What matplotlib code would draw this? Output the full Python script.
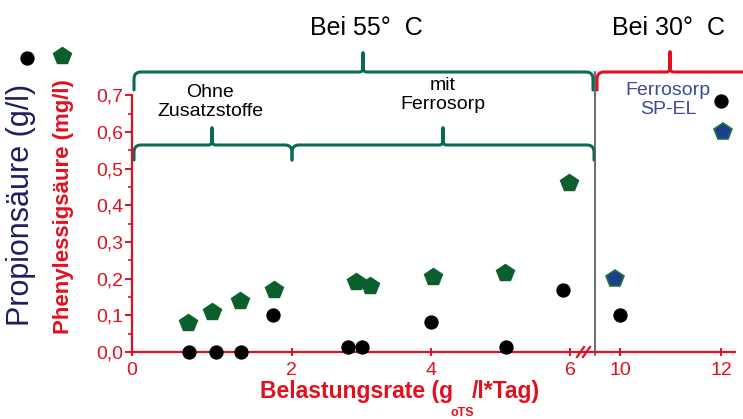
import numpy as np
import matplotlib
matplotlib.use("Agg")
import matplotlib.pyplot as plt
from matplotlib.path import Path
from matplotlib.patches import PathPatch

plt.rcParams['font.family'] = ['Liberation Sans', 'DejaVu Sans']

# Belastungsrate 0-6 (55 °C)
phen_x = [0.70, 1.00, 1.35, 1.78, 2.93, 3.13, 4.03, 5.07, 5.98]
phen_y = [0.08, 0.11, 0.14, 0.17, 0.19, 0.18, 0.205, 0.215, 0.46]
prop_x = [0.72, 1.05, 1.37, 1.76, 2.81, 3.01, 4.00, 5.08, 5.90]
prop_y = [0.0, 0.0, 0.0, 0.10, 0.013, 0.013, 0.083, 0.013, 0.17]

# Belastungsrate 10-12 (30 °C, Ferrosorp SP-EL)
phen30_x = [9.90, 12.05]
phen30_y = [0.20, 0.60]
prop30_x = [10.00, 12.00]
prop30_y = [0.10, 0.685]

yticks = [0.0, 0.1, 0.2, 0.3, 0.4, 0.5, 0.6, 0.7]
ytick_labels = ["0,0", "0,1", "0,2", "0,3", "0,4", "0,5", "0,6", "0,7"]
xticks_left = [0, 2, 4, 6]
xticks_right = [10, 12]

RED = '#e2101f'
TEAL = '#0b6a55'
GREEN = '#0c5f2c'
NAVY = '#1b1f5e'
BLUE = '#1e3d8f'

W, H = 743, 419
fig = plt.figure(figsize=(W / 100, H / 100), dpi=100)


def box(x0, x1, y_top, y_bot):
    return [x0 / W, 1 - y_bot / H, (x1 - x0) / W, (y_bot - y_top) / H]


# stretched section 0..2, then regular spacing
def fwd(x):
    x = np.asarray(x, dtype=float)
    return np.where(x < 2, x * 80.0, 160.0 + (x - 2) * 69.5)


def inv(p):
    p = np.asarray(p, dtype=float)
    return np.where(p < 160, p / 80.0, 2 + (p - 160) / 69.5)


ax = fig.add_axes(box(131.7, 595, 95.3, 352))
ax.set_xscale('function', functions=(fwd, inv))
ax.set_xlim(0, 6.36)
ax.set_ylim(0, 0.7)

ax_r = fig.add_axes(box(595, 735, 95.3, 352), sharey=ax)
ax_r.set_xlim(9.5, 12.28)

mk = dict(linestyle='none', clip_on=False, zorder=5)
ax.plot(phen_x, phen_y, marker='p', markersize=13, color=GREEN, **mk)
ax.plot(prop_x, prop_y, marker='o', markersize=9.3, color='black', **mk)
ax_r.plot(phen30_x, phen30_y, marker='p', markersize=13, markerfacecolor=BLUE,
          markeredgecolor='#1f7a3a', markeredgewidth=1.2, **mk)
ax_r.plot(prop30_x, prop30_y, marker='o', markersize=9.3, color='black', **mk)

for a in (ax, ax_r):
    a.patch.set_visible(False)
    for s in ('top', 'right'):
        a.spines[s].set_visible(False)
    a.spines['bottom'].set_color(RED)
    a.spines['bottom'].set_linewidth(1.6)
    a.tick_params(axis='x', colors=RED, labelsize=14, direction='inout',
                  length=6, width=1.4, pad=4)

ax.spines['left'].set_color(RED)
ax.spines['left'].set_linewidth(1.6)
ax.set_xticks(xticks_left)
ax.set_xticklabels([str(t) for t in xticks_left])
ax.set_yticks(yticks)
ax.set_yticklabels(ytick_labels)
ax.set_yticks(np.arange(0.05, 0.7, 0.1), minor=True)
ax.tick_params(axis='y', colors=RED, labelsize=14, direction='out',
               length=5, width=1.4, pad=1)
ax.tick_params(axis='y', which='minor', colors=RED, length=3, width=1.2)
ax.tick_params(axis='x', which='minor', length=0)

ax_r.spines['left'].set_visible(False)
ax_r.set_xticks(xticks_right)
ax_r.set_xticklabels([str(t) for t in xticks_right])
ax_r.tick_params(axis='y', left=False, labelleft=False)
ax_r.tick_params(axis='y', which='minor', left=False)

# overlay in pixel coordinates for brackets, titles and labels
ov = fig.add_axes([0, 0, 1, 1], zorder=-1)
ov.set_xlim(0, W)
ov.set_ylim(H, 0)
ov.axis('off')


def bracket(x0, x1, xc, y, ytip, yend, color):
    r = 7
    verts = [(x0, yend), (x0, y + r), (x0, y), (x0 + r, y),
             (xc - 4, y), (xc, y), (xc, y - 4), (xc, ytip),
             (xc, y - 4), (xc, y), (xc + 4, y),
             (x1 - r, y), (x1, y), (x1, y + r), (x1, yend)]
    codes = [Path.MOVETO, Path.LINETO, Path.CURVE3, Path.CURVE3,
             Path.LINETO, Path.CURVE3, Path.CURVE3, Path.LINETO,
             Path.LINETO, Path.CURVE3, Path.CURVE3,
             Path.LINETO, Path.CURVE3, Path.CURVE3, Path.LINETO]
    ov.add_patch(PathPatch(Path(verts, codes), fill=False, edgecolor=color,
                           linewidth=2.2, capstyle='round', joinstyle='round'))


bracket(134, 593, 363, 72, 53, 90, TEAL)
bracket(134, 292, 212, 145, 128, 160, TEAL)
bracket(292, 594, 443, 145, 128, 160, TEAL)
bracket(597, 790, 670, 72, 52, 90, RED)

# separator between the two temperature ranges
ov.plot([595, 595], [72, 355], color='#555555', linewidth=1.2)
# axis break marks
for dx in (0, 6):
    ov.plot([577 + dx, 584 + dx], [357, 347], color=RED, linewidth=1.6)

ov.text(366, 28, 'Bei 55°  C', fontsize=18, ha='center', va='center')
ov.text(668, 28, 'Bei 30°  C', fontsize=18, ha='center', va='center')
ov.text(210, 102, 'Ohne\nZusatzstoffe', fontsize=14, ha='center', va='center',
        linespacing=1.15)
ov.text(443, 95, 'mit\nFerrosorp', fontsize=14, ha='center', va='center',
        linespacing=1.15)
ov.text(668, 100, 'Ferrosorp\nSP-EL', fontsize=14, ha='center', va='center',
        color='#3a4a9a', linespacing=1.1)

ov.text(21, 205, 'Propionsäure (g/l)', fontsize=22, rotation=90,
        ha='center', va='center', color=NAVY)
ov.text(63, 207, 'Phenylessigsäure (mg/l)', fontsize=16, fontweight='bold',
        rotation=90, ha='center', va='center', color=RED)
ov.plot([27], [58], marker='o', markersize=9.3, color='black')
ov.plot([62], [56], marker='p', markersize=13, color=GREEN)

ov.text(453, 391, 'Belastungsrate (g', fontsize=16.5, fontweight='bold',
        ha='right', va='center', color=RED)
ov.text(472, 391, '/l*Tag)', fontsize=16.5, fontweight='bold',
        ha='left', va='center', color=RED)
ov.text(462, 413, 'oTS', fontsize=9, fontweight='bold',
        ha='center', va='center', color=RED)

fig.savefig('out.png', dpi=100)
